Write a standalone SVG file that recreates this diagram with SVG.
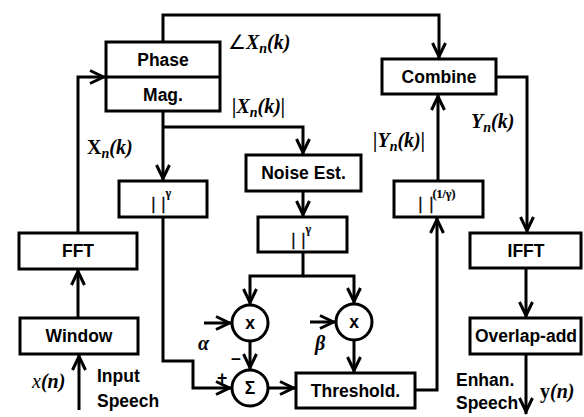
<svg xmlns="http://www.w3.org/2000/svg" width="584" height="417" viewBox="0 0 584 417">
<defs>
<marker id="ah" markerUnits="userSpaceOnUse" viewBox="-17 -8 18 16" refX="0" refY="0" markerWidth="18" markerHeight="16" orient="auto">
<path d="M-16,-6.5 L-2.5,0 L-16,6.5" fill="none" stroke="#000" stroke-width="3"/>
</marker>
</defs>
<style>
.box{fill:#fff;stroke:#000;stroke-width:3}
.ln{fill:none;stroke:#000;stroke-width:3}
.ar{marker-end:url(#ah)}
.t{font-family:"Liberation Sans",Arial,sans-serif;font-weight:bold;font-size:17.5px;text-anchor:middle;fill:#000}
.ts{font-family:"Liberation Sans",Arial,sans-serif;font-weight:bold;font-size:17.5px;fill:#000}
.m{font-family:"Liberation Serif","Times New Roman",serif;font-weight:bold;font-style:italic;font-size:20px;fill:#000}
.bar{font-family:"Liberation Serif","Times New Roman",serif;font-weight:bold;font-size:17px;fill:#000;stroke:#000;stroke-width:0.4}
.sup{font-family:"Liberation Serif","Times New Roman",serif;font-size:12px;stroke-width:0.2}
</style>
<rect width="584" height="417" fill="#fff"/>

<g id="connectors">
<path class="ln ar" d="M163,42 V15 H439 V59"/>
<path class="ln ar" d="M78,233 V77 H106"/>
<path class="ln ar" d="M78,318 V269"/>
<path class="ln ar" d="M79,410 V354"/>
<path class="ln ar" d="M163,111 V181"/>
<path class="ln ar" d="M163,127 H303 V155"/>
<path class="ln ar" d="M303,191 V217"/>
<path class="ln ar" d="M303,252 V276 H250 V305"/>
<path class="ln ar" d="M303,276 H354 V304"/>
<path class="ln ar" d="M250,341 V370"/>
<path class="ln ar" d="M354,340 V373"/>
<path class="ln ar" d="M204,323 H232"/>
<path class="ln ar" d="M310,322 H336"/>
<path class="ln ar" d="M163,217 V361 H193 V388 H232"/>
<path class="ln ar" d="M268,388 H296"/>
<path class="ln ar" d="M415,390 H437 V217"/>
<path class="ln ar" d="M438,181 V94"/>
<path class="ln ar" d="M496,77 H527 V233"/>
<path class="ln ar" d="M526,268 V318"/>
<path class="ln ar" d="M526,354 V414"/>
</g>

<g id="phase-mag">
<rect class="box" x="106" y="42" width="114" height="69"/>
<line class="ln" x1="106" y1="77" x2="220" y2="77"/>
<text class="t" x="163" y="66">Phase</text>
<text class="t" x="163" y="101">Mag.</text>
</g>
<g id="fft">
<rect class="box" x="19" y="233" width="118" height="36"/>
<text class="t" x="78" y="257">FFT</text>
</g>
<g id="window">
<rect class="box" x="20" y="318" width="118" height="36"/>
<text class="t" x="79" y="342">Window</text>
</g>
<g id="pow1">
<rect class="box" x="119" y="181" width="88" height="36"/>
<text class="bar"><tspan x="151.5" y="209">|</tspan><tspan x="161.5" y="209">|</tspan><tspan class="sup" x="165.5" y="197">γ</tspan></text>
</g>
<g id="noise-est">
<rect class="box" x="246" y="155" width="115" height="36"/>
<text class="t" x="303.5" y="179">Noise Est.</text>
</g>
<g id="pow2">
<rect class="box" x="258" y="217" width="89" height="35"/>
<text class="bar"><tspan x="291.5" y="245">|</tspan><tspan x="301.5" y="245">|</tspan><tspan class="sup" x="305.5" y="233">γ</tspan></text>
</g>
<g id="mul-alpha">
<circle class="box" cx="250" cy="323" r="18"/>
<text class="t" x="250" y="329">x</text>
</g>
<g id="mul-beta">
<circle class="box" cx="354" cy="322" r="18"/>
<text class="t" x="354" y="328">x</text>
</g>
<g id="sum">
<circle class="box" cx="250" cy="388" r="18"/>
<text class="t" x="250" y="394">Σ</text>
</g>
<g id="threshold">
<rect class="box" x="296" y="373" width="119" height="35"/>
<text class="t" x="355.5" y="397">Threshold.</text>
</g>
<g id="pow-inv">
<rect class="box" x="394" y="181" width="89" height="36"/>
<text class="bar"><tspan x="418.5" y="209">|</tspan><tspan x="429.5" y="209">|</tspan><tspan class="sup" x="432.5" y="198">(1/γ)</tspan></text>
</g>
<g id="combine">
<rect class="box" x="382" y="59" width="114" height="35"/>
<text class="t" x="439" y="83">Combine</text>
</g>
<g id="ifft">
<rect class="box" x="470" y="233" width="111" height="35"/>
<text class="t" x="526" y="257">IFFT</text>
</g>
<g id="overlap-add">
<rect class="box" x="470" y="318" width="111" height="36"/>
<text class="t" x="526" y="342">Overlap-add</text>
</g>

<g id="labels">
<text class="m" x="228" y="49"><tspan font-family="DejaVu Sans,sans-serif" font-style="normal" font-weight="normal" font-size="20">∠</tspan>X<tspan font-size="14" dy="4">n</tspan><tspan dy="-4">(k)</tspan></text>
<text class="m" x="232" y="113">|X<tspan font-size="14" dy="4">n</tspan><tspan dy="-4">(k)|</tspan></text>
<text class="m" x="87" y="154"><tspan font-style="normal">X</tspan><tspan font-size="14" dy="4">n</tspan><tspan dy="-4">(k)</tspan></text>
<text class="m" x="373" y="147">|Y<tspan font-size="14" dy="4">n</tspan><tspan dy="-4">(k)|</tspan></text>
<text class="m" x="471" y="128">Y<tspan font-size="14" dy="4">n</tspan><tspan dy="-4">(k)</tspan></text>
<text class="m" x="32" y="388" font-size="21"><tspan font-weight="normal">x</tspan>(n)</text>
<text class="m" x="540" y="398" font-size="21"><tspan font-style="normal">y</tspan>(n)</text>
<text class="m" x="198" y="350">α</text>
<text class="m" x="315" y="350">β</text>
<text class="ts" x="231" y="364" font-size="15">–</text>
<text class="ts" x="217" y="384" font-size="17">+</text>
<text class="ts" x="97" y="382">Input</text>
<text class="ts" x="97" y="407">Speech</text>
<text class="ts" x="456" y="386">Enhan.</text>
<text class="ts" x="456" y="409">Speech</text>
</g>
</svg>
